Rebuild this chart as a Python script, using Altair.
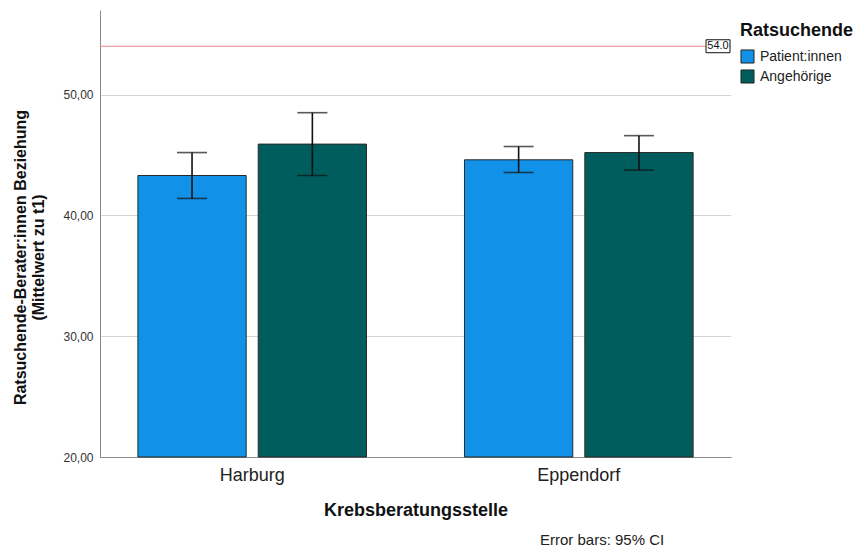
import altair as alt
import pandas as pd

# Mean score per counselling site and client group, with 95% CI bounds
sites = ["Harburg", "Harburg", "Eppendorf", "Eppendorf"]
groups = ["Patient:innen", "Angehörige", "Patient:innen", "Angehörige"]
means = [43.3, 45.9, 44.6, 45.2]
ci_low = [41.4, 43.3, 43.55, 43.75]
ci_high = [45.2, 48.5, 45.7, 46.6]

site_order = ["Harburg", "Eppendorf"]
group_order = ["Patient:innen", "Angehörige"]
group_colors = ["#1192e8", "#005d5d"]

reference_value = [54.0]

df = pd.DataFrame({
    "site": sites, "group": groups, "mean": means,
    "low": ci_low, "high": ci_high,
})
ref = pd.DataFrame({"value": reference_value})
ref["label"] = ref["value"].map(lambda v: f"{v:.1f}")

FONT = "Liberation Sans"
Y_DOMAIN = [20, 57]

x_enc = alt.X(
    "site:N", sort=site_order,
    scale=alt.Scale(paddingInner=0.3, paddingOuter=0.116),
    axis=alt.Axis(
        title="Krebsberatungsstelle", labelAngle=0, labelFontSize=18,
        labelColor="#222222", labelPadding=9, ticks=False,
        titleFontSize=18, titleFontWeight="bold", titlePadding=17,
        titleColor="#111111", domainColor="#8a8a8a",
    ),
)
xoff_enc = alt.XOffset("group:N", sort=group_order,
                       scale=alt.Scale(paddingInner=0.1, paddingOuter=0))
y_scale = alt.Scale(domain=Y_DOMAIN, zero=False, nice=False)

bars = alt.Chart(df).mark_bar(stroke="#2b2b2b", strokeWidth=1).encode(
    x=x_enc,
    xOffset=xoff_enc,
    y=alt.Y(
        "mean:Q", scale=y_scale,
        axis=alt.Axis(
            title=["Ratsuchende-Berater:innen Beziehung", "(Mittelwert zu t1)"],
            values=[20, 30, 40, 50],
            labelExpr="replace(format(datum.value, '.2f'), '.', ',')",
            labelFontSize=12, labelColor="#333333", labelPadding=7,
            ticks=False, grid=True, gridColor="#d4d4d4",
            domainColor="#8a8a8a",
            titleFontSize=16, titleFontWeight="bold", titleColor="#111111",
            titleX=-72, titleY=247,
        ),
    ),
    y2=alt.datum(20),
    color=alt.Color(
        "group:N", sort=group_order,
        scale=alt.Scale(domain=group_order, range=group_colors),
        legend=alt.Legend(
            title="Ratsuchende", orient="none", legendX=640, legendY=12,
            titleFontSize=18, titleFontWeight="bold", titleColor="#111111",
            labelFontSize=14, labelColor="#222222", symbolType="square",
            symbolSize=170, symbolStrokeColor="#222222", symbolStrokeWidth=1,
            rowPadding=1, titlePadding=9, labelOffset=5,
        ),
    ),
)

whisker = alt.Chart(df).mark_rule(color="#111111", strokeWidth=1.6).encode(
    x=alt.X("site:N", sort=site_order),
    xOffset=xoff_enc,
    y=alt.Y("low:Q", scale=y_scale),
    y2="high:Q",
)

cap_low = alt.Chart(df).mark_tick(color="#111111", thickness=1.6, size=30).encode(
    x=alt.X("site:N", sort=site_order),
    xOffset=xoff_enc,
    y=alt.Y("low:Q", scale=y_scale),
)
cap_high = alt.Chart(df).mark_tick(color="#111111", thickness=1.6, size=30).encode(
    x=alt.X("site:N", sort=site_order),
    xOffset=xoff_enc,
    y=alt.Y("high:Q", scale=y_scale),
)

ref_line = alt.Chart(ref).mark_rule(color="#e8898b", strokeWidth=1.2).encode(
    y=alt.Y("value:Q", scale=y_scale),
)

ref_box = alt.Chart(ref).mark_point(
    shape="M-1,-0.54H1V0.54H-1Z", filled=True, fill="white",
    stroke="#111111", strokeWidth=1, size=576, opacity=1,
).encode(
    x=alt.value(618),
    y=alt.Y("value:Q", scale=y_scale),
)

ref_text = alt.Chart(ref).mark_text(
    font=FONT, fontSize=11, color="#111111", baseline="middle", align="center",
).encode(
    x=alt.value(618),
    y=alt.Y("value:Q", scale=y_scale),
    text="label:N",
)

note = alt.Chart(pd.DataFrame({"t": ["Error bars: 95% CI"]})).mark_text(
    font=FONT, fontSize=15, color="#222222", align="left", baseline="middle",
).encode(
    x=alt.value(440),
    y=alt.value(530),
    text="t:N",
)

chart = alt.layer(
    bars, whisker, cap_low, cap_high, ref_line, ref_box, ref_text, note
).properties(
    width=631, height=447,
    autosize=alt.AutoSizeParams(type="none"),
    padding={"left": 100, "top": 10, "right": 128, "bottom": 91},
).configure(
    font=FONT,
).configure_view(
    stroke=None,
)

chart.save("out.html", embed_options={"renderer": "svg", "actions": False})
